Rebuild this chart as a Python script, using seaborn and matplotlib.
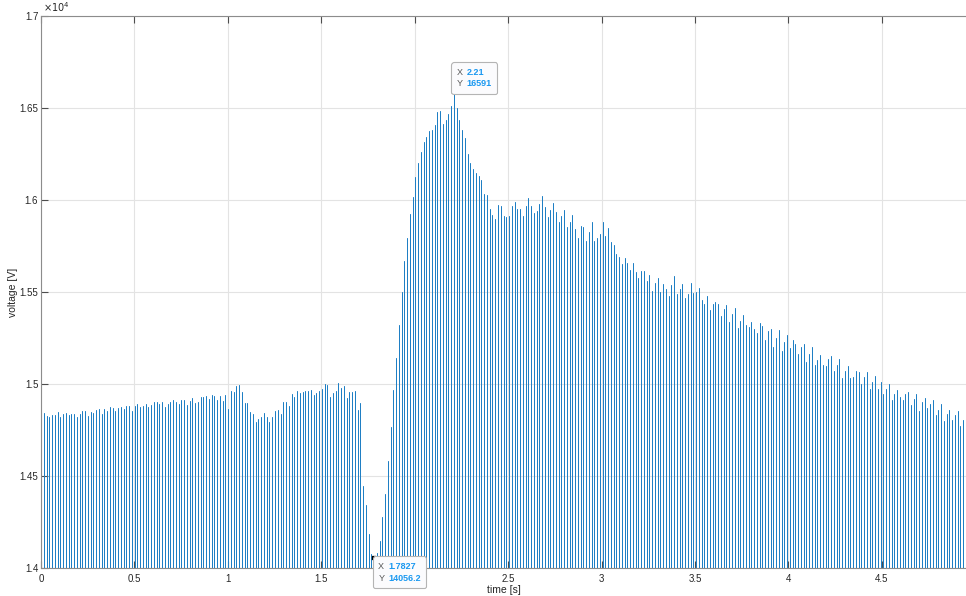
import numpy as np
import pandas as pd
import matplotlib
matplotlib.use("Agg")
import matplotlib.pyplot as plt
import seaborn as sns
from matplotlib.offsetbox import TextArea, HPacker, VPacker, AnnotationBbox

# pulse train: one peak per period, signal drops below the plotted range between pulses
sample_period = 2.21 / 150      # s
pulse_floor = 12000             # V, level between pulses (off-axis)

peaks = [
    14860, 14845, 14828, 14822, 14831, 14831, 14848, 14822, 14837, 14841,
    14831, 14837, 14837, 14819, 14837, 14851, 14851, 14828, 14850, 14844,
    14859, 14862, 14835, 14862, 14855, 14873, 14868, 14855, 14868, 14873,
    14866, 14880, 14880, 14853, 14880, 14889, 14873, 14882, 14891, 14873,
    14886, 14900, 14902, 14891, 14902, 14873, 14891, 14900, 14913, 14904,
    14891, 14913, 14913, 14886, 14909, 14924, 14895, 14904, 14928, 14928,
    14935, 14918, 14940, 14937, 14913, 14935, 14908, 14938,
    14866, 14964, 14958, 14991, 14996, 14958, 14897, 14899, 14846,
    14837, 14795, 14808, 14822, 14842, 14819, 14792, 14822, 14853,
    14859, 14837, 14902, 14902, 14882, 14947, 14931, 14964, 14949,
    14955, 14964, 14964, 14967, 14940, 14949, 14960, 14975, 15000, 14995,
    14931, 14949, 14962, 15004, 14980, 14989, 14922, 14958, 14955,
    14964, 14860, 14896, 14446, 14343, 14183, 14074, 14056.2, 14079, 14148,
    14279, 14401, 14584, 14766, 14969, 15142, 15323, 15501, 15668, 15795,
    15923, 16017, 16126, 16199, 16262, 16317, 16344, 16377, 16380, 16407,
    16480, 16485, 16413, 16436, 16467, 16513, 16591,
    16500, 16433, 16382, 16338, 16251, 16200, 16169, 16147, 16133, 16109,
    16033, 16027, 15951, 15920, 15896, 15975, 15969, 15915, 15909, 15911,
    15969, 15987, 15951, 15951, 15915, 15965, 16009, 15969, 15929, 15942,
    15978, 16024, 15960, 15905, 15945, 15982, 15933, 15878, 15911, 15947,
    15851, 15878, 15920, 15842, 15796, 15860, 15851, 15778, 15824, 15882,
    15778, 15796, 15814, 15882, 15805, 15846, 15773, 15756, 15709, 15691,
    15651, 15687, 15660, 15618, 15655, 15606, 15575, 15615, 15615, 15560,
    15591, 15506, 15551, 15578, 15502, 15545, 15515,
    15478, 15536, 15587, 15487, 15514, 15545, 15466, 15491, 15547, 15496,
    15500, 15524, 15455, 15437, 15476, 15402, 15433, 15447, 15433, 15370,
    15409, 15429, 15337, 15379, 15411, 15306, 15342, 15375, 15319, 15310,
    15339, 15297, 15279, 15330, 15315, 15237, 15288, 15297, 15201, 15252,
    15292, 15179, 15230, 15266, 15197, 15237, 15219, 15161, 15201, 15216,
    15121,
    15163, 15199, 15105, 15129, 15159, 15105, 15096, 15138, 15154, 15069,
    15101, 15134, 15033, 15072, 15096, 15033, 15036, 15069, 15063, 15000,
    15038, 15065, 14973, 15011, 15042, 14975, 15011, 14946,
    14975, 15002, 14915, 14946, 14969, 14929, 14915, 14946, 14955, 14884,
    14920, 14947, 14855, 14900, 14924, 14870, 14891, 14915, 14830, 14860,
    14891, 14801, 14837, 14860, 14806, 14833, 14855, 14774, 14806,
    14833,
]

# data tips shown on the figure
tip_x = [2.21, 1.7827]
tip_y = [16591, 14056.2]

xticks = [0, 0.5, 1, 1.5, 2, 2.5, 3, 3.5, 4, 4.5]
xtick_labels = ["0", "0.5", "1", "1.5", "2", "2.5", "3", "3.5", "4", "4.5"]
yticks = [14000, 14500, 15000, 15500, 16000, 16500, 17000]
ytick_labels = ["1.4", "1.45", "1.5", "1.55", "1.6", "1.65", "1.7"]


def main():
    sns.set_theme(style="white")
    plt.rcParams['font.family'] = ['Liberation Sans', 'DejaVu Sans']

    t = np.arange(len(peaks)) * sample_period
    floor = np.full(len(peaks), pulse_floor)
    df = pd.DataFrame({
        "t": np.repeat(t, 3),
        "v": np.column_stack([floor, peaks, floor]).ravel(),
    })

    fig = plt.figure(figsize=(9.66, 5.96), dpi=100)
    ax = fig.add_axes([41 / 966, 28 / 596, 925 / 966, 552 / 596])

    sns.lineplot(data=df, x="t", y="v", sort=False, estimator=None,
                 color="#1f7fc4", linewidth=0.45, ax=ax)
    sns.scatterplot(x=tip_x, y=tip_y, marker="s", s=6, color="black",
                    edgecolor="black", zorder=6, ax=ax)

    ax.set_xlim(0, t[-1])
    ax.set_ylim(14000, 17000)
    ax.set_xticks(xticks)
    ax.set_xticklabels(xtick_labels)
    ax.set_yticks(yticks)
    ax.set_yticklabels(ytick_labels)

    ax.grid(True, color="#e3e3e3", linewidth=0.8)
    ax.set_axisbelow(True)
    for side in ["top", "left", "bottom"]:
        ax.spines[side].set_color("#8c8c8c")
        ax.spines[side].set_linewidth(0.8)
    ax.spines["right"].set_visible(False)
    ax.tick_params(direction="in", length=5, width=0.8, color="#4d4d4d",
                   labelsize=7, labelcolor="#262626", top=True, bottom=True,
                   left=True, right=False)
    ax.tick_params(axis="x", pad=4)
    ax.tick_params(axis="y", pad=2)

    ax.set_xlabel("time [s]", fontsize=7.5, color="#262626", labelpad=1)
    ax.set_ylabel("voltage [V]", fontsize=7.5, color="#262626", labelpad=1)
    ax.text(0.002, 1.004, r"$\times10^{4}$", transform=ax.transAxes,
            fontsize=7, color="#262626", ha="left", va="bottom")

    # MATLAB-style data tips
    for x, y, align, shift in zip(tip_x, tip_y, [(0, 0), (0, 1)], [(2, 2), (3, -3)]):
        rows = []
        for lab, val in (("X", f"{x:g}"), ("Y", f"{y:g}")):
            rows.append(HPacker(children=[
                TextArea(lab, textprops=dict(color="#555555", size=6.5)),
                TextArea(val, textprops=dict(color="#1a98f0", size=6.5, weight="bold")),
            ], pad=0, sep=3, align="baseline"))
        box = VPacker(children=rows, pad=0, sep=2, align="left")
        ab = AnnotationBbox(box, (x, y), xybox=shift, boxcoords="offset points",
                            box_alignment=align, frameon=True, pad=0.35,
                            bboxprops=dict(boxstyle="round,pad=0.35,rounding_size=0.15",
                                           fc="#fbfbfd", ec="#b4b4b4", lw=0.8),
                            zorder=7)
        ab.set_clip_on(False)
        ax.add_artist(ab)

    fig.savefig("out.png", dpi=100)


if __name__ == "__main__":
    main()
